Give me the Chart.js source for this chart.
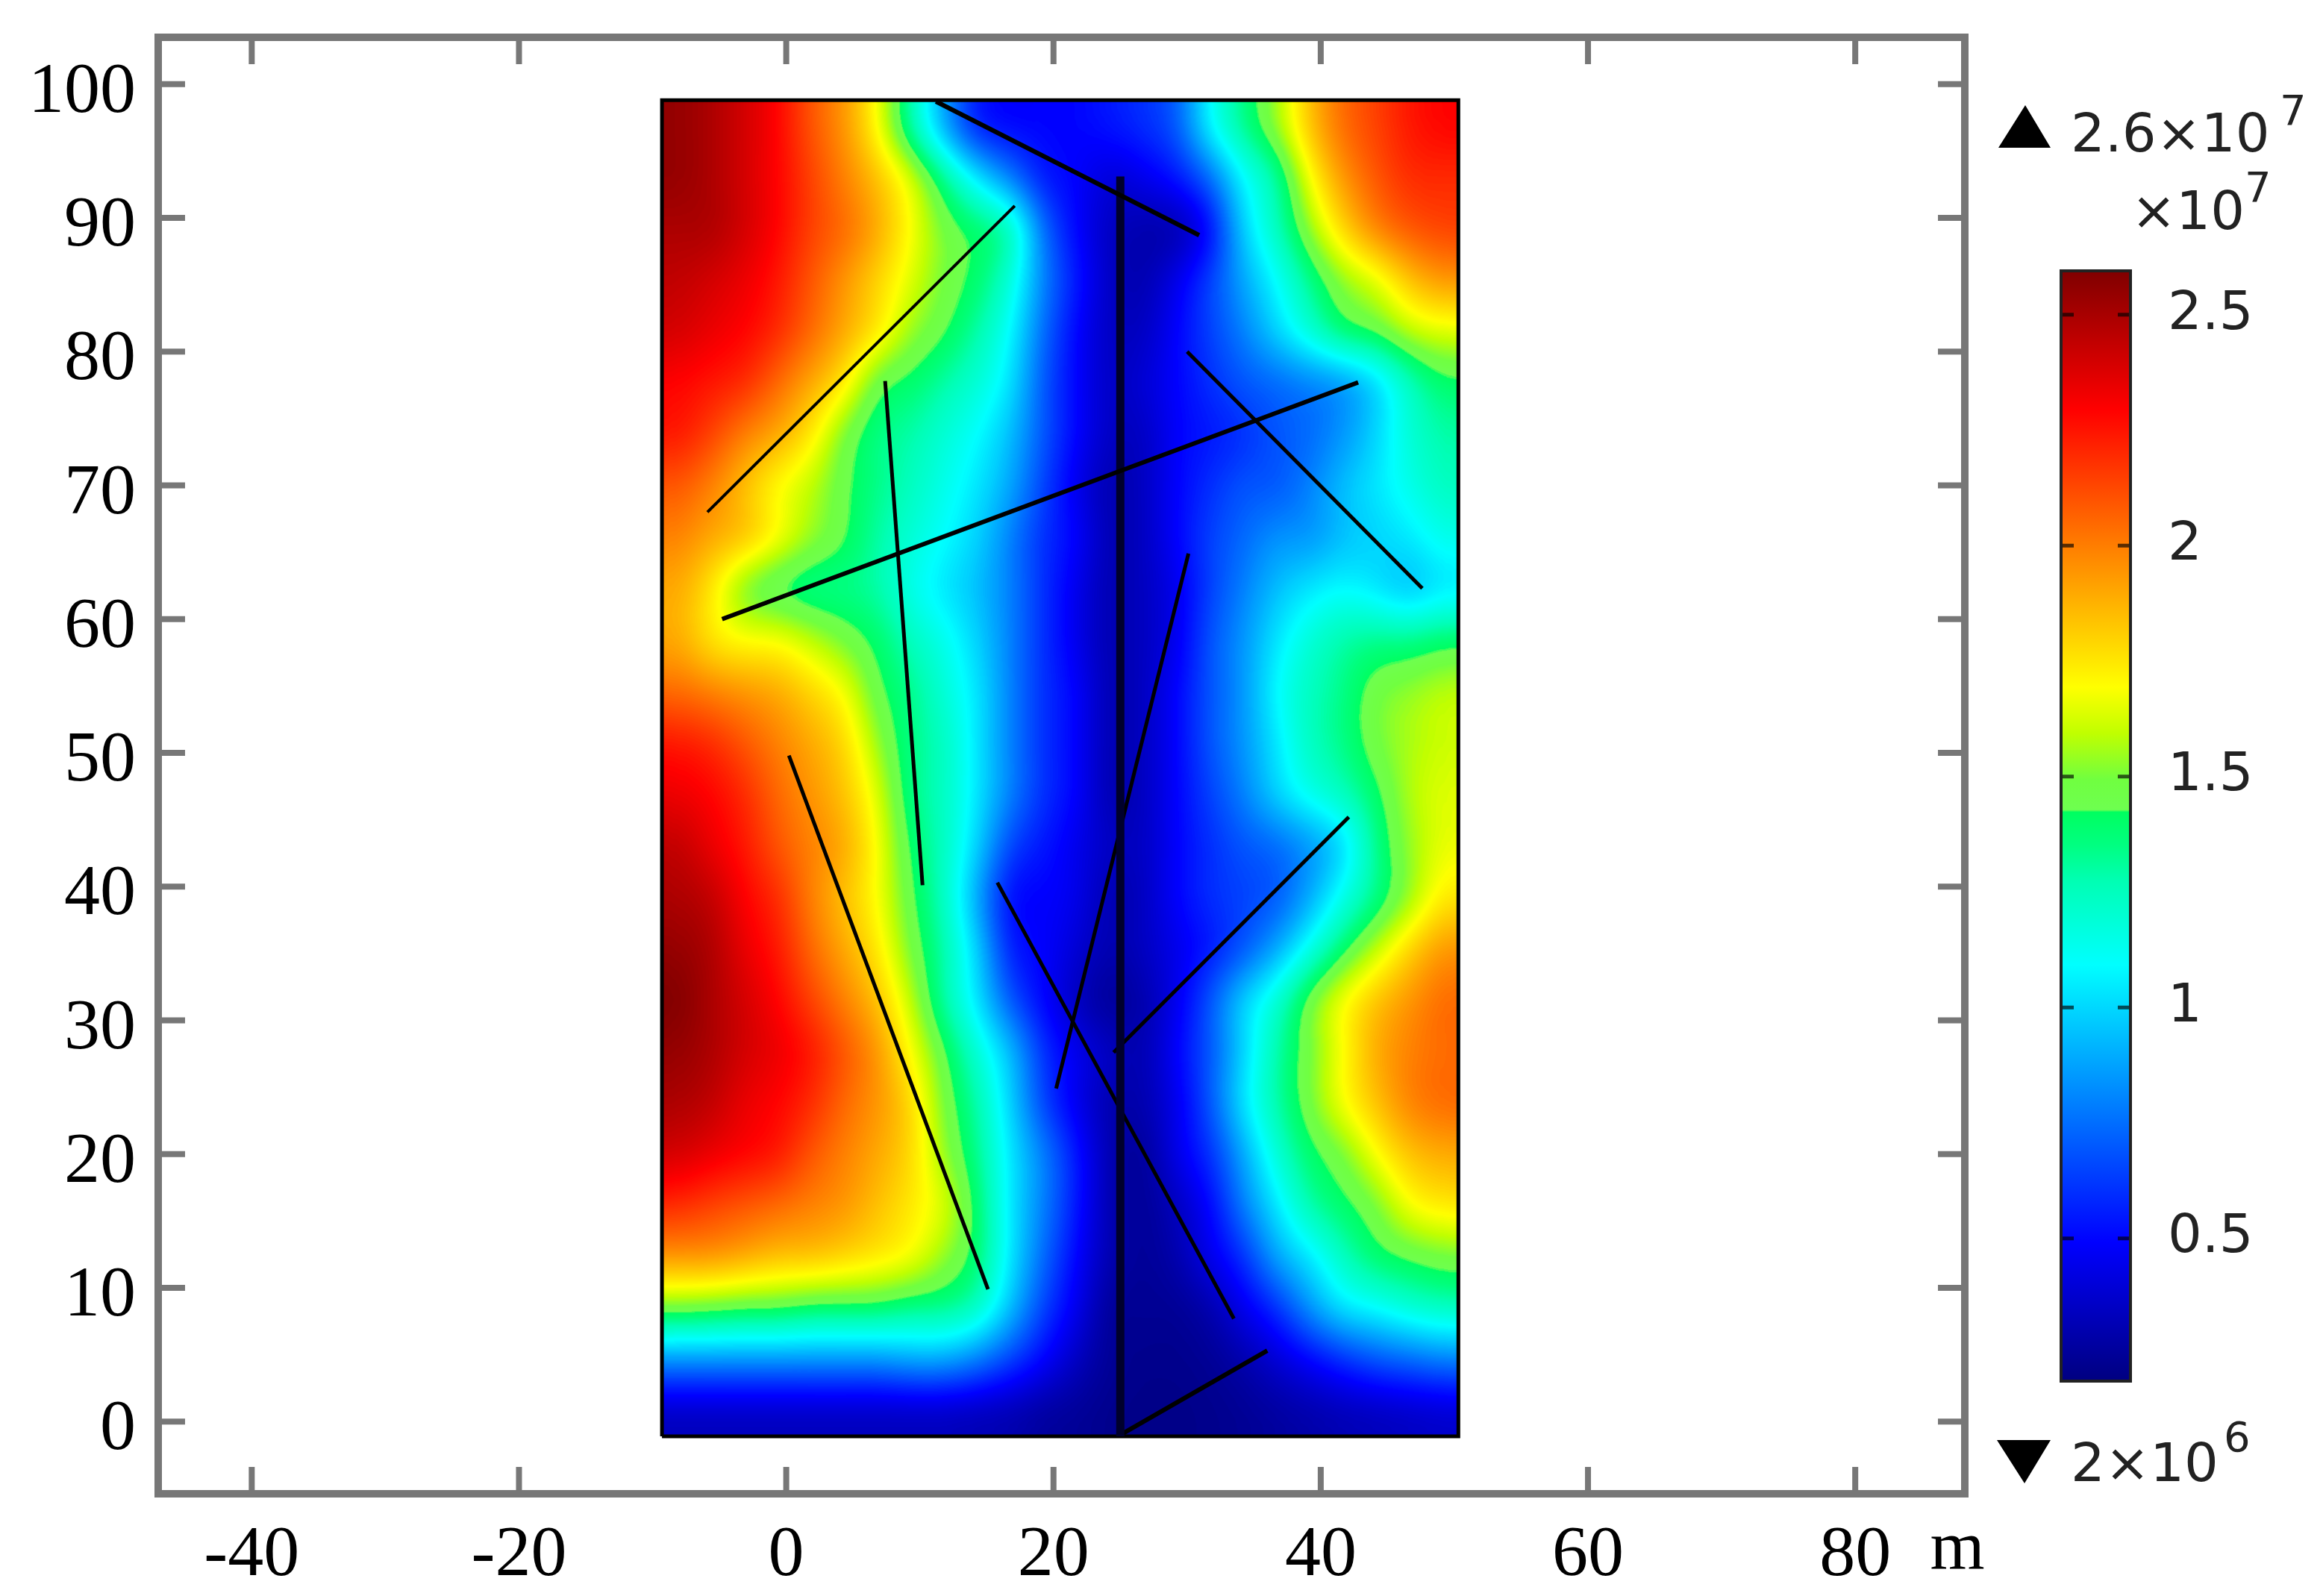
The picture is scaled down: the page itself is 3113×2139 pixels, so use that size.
<!DOCTYPE html>
<html>
<head>
<meta charset="utf-8">
<title>Surface plot</title>
<script src="https://cdn.jsdelivr.net/npm/chart.js@4/dist/chart.umd.min.js"></script>
<style>
  html, body { margin: 0; padding: 0; background: #fff; }
  #campo { position: absolute; left: 0; top: 0; }
  #barra { position: absolute; left: 2640px; top: 0; }
</style>
</head>
<body>
<canvas id="campo" width="2720" height="2139"></canvas>
<canvas id="barra" width="473" height="2139"></canvas>
<script>
// Limites del dominio dibujado, en metros
const dominioX = [-9.3, 50.3];
const dominioY = [-1.1, 98.8];

// Valores, en unidades de 1e6, de arriba abajo y de izquierda a derecha
const valores = [
  [25.5,25,24,23,21,19.5,17,13,9,5.5,5,5,5,5.5,6,7,11,13.5,15.5,18.5,20.5,21.5,22.5,23],
  [25.5,25,24,23,21.5,20,18.5,16.5,13.5,10.5,8,5.5,5,4,4.5,5.5,7.5,11,13,17,19.5,21,22,22],
  [25,25,24,23,21.5,20.5,19,17,15,14,13,7.5,5,3.5,3,3,5,10,12.5,15.5,18,20,21,21.5],
  [24.5,24,23.5,22.5,21,19.5,18,16.5,15,14,12,8,5.5,3.5,3,4.5,6.5,9,11,13.5,15.5,16.5,18.5,19.5],
  [24,23.5,23,22,20.5,19,17.5,15.5,14.5,13,11,7.5,5,3.5,3.5,5,6.5,8,10,12,14,14.5,16,16.5],
  [23,22.5,22,20.5,19,17.5,14.5,14,13,12,10.5,7,5,3.5,4,5,6,7,7.5,8,8.5,10,12.5,14],
  [22.5,21.5,20,19,17.5,15,13.5,13,12,11,9.5,7,5,3.5,3.5,5,5.5,6,7,7.5,8.5,10,12,13],
  [21,20,18.5,17,16,14.5,13.5,12.5,11.5,10.5,9,6.5,4.5,3,3.5,5,6,7,7,8,9.5,10.5,11.5,12.5],
  [20,19,18.5,17,15.5,14.5,13,12,11,10,8,6,5,3,3.5,5,6.5,7.5,8.5,8.5,9.5,10,10.5,11.5],
  [19,17.5,15,14,13.5,13.5,13,11.5,10.5,9.5,8,6,4.5,3,3.5,4.5,6.5,8,9.5,10.5,11,10.5,9.5,10.5],
  [19,17.5,17,17,16,15,14,12.5,11.5,10,8,6,4.5,3,3.5,4.5,7,8.5,10.5,12,13,13.5,13.5,14],
  [20.5,20,19.5,19,18,17,14.5,13.5,12,10.5,8,6,5,3,3.5,5,7,8.5,11,12.5,13.5,15,15.5,16],
  [22.5,22,21,20,19,18,15.5,13.5,12.5,10.5,8,6,5,3,3.5,5,7,8.5,10.5,12.5,13.5,15,15.7,16.2],
  [23.5,23,22,20.5,19.5,18.5,16.5,13.5,12.5,10.5,8,6,5,3,3.5,5,6.5,8,10,11.5,12.5,14,15.8,16.5],
  [24.5,23.5,22.5,21,20,19,17,14,12.5,10,6.5,5.5,4.5,3.5,3.5,5,6,7,7.5,8.5,10,13.5,15.5,16.7],
  [25,24.5,23,22,20,18.5,17,14.5,12.5,9,5,5,4.5,3,3.5,5,6,6.5,7,9,11.5,13.5,15.5,17.5],
  [25.5,25,23.5,22.5,20.5,19,17.5,15,13,10,5.5,5,4,3,3.5,4.5,5.5,7,9,11.5,14,16,18,19.5],
  [26,25,24,23,21.5,20,18.5,16,13,10.5,7,5,3.5,2.5,3,4.5,7,10,12,15,17,18.5,19.5,20.5],
  [25.5,25,24,23.5,22.5,21,19.5,17,14.5,12,9.5,6,4.5,3.5,3,5,7,10,13,15,17,19,20,20.5],
  [25,24.5,23.5,23,22,20.5,19.5,18,15,13,10,6.5,4.5,3,3,4.5,7,10.5,13,15,17,18.5,20,20.5],
  [24,23.5,23,22.5,21,20,19,18,15.5,13.5,10.5,8,5.5,3,2.5,4.5,6,9,12,14,15,17,18.5,19],
  [22,21.5,21,20.5,20,19.5,18.5,17.5,16.5,14,10.5,8,5.5,3,2.5,3.5,5,8,10.5,13,14,15,17,17.5],
  [19.5,19.5,19,18.5,18.5,18,17.5,17,15.5,14,10.5,7.5,5,3,2.5,3,4.5,6,9,10.5,12.5,14,14.5,15],
  [15,14.8,14.5,14.5,14,14,14,13.5,13.5,12.5,9.5,6.5,4.5,2.5,2.5,2.5,3,4.5,6,8.5,10.5,11,12,12.5],
  [8.5,8.5,8.5,8.5,8.5,8.5,8.5,9,9,8,6.5,5,3.5,2.5,2.3,2.3,2.5,3,4,5,6,7,7.5,8],
  [3.6,3.6,3.6,3.6,3.6,3.6,3.6,3.6,3.6,3.4,3.2,2.8,2.6,2.3,2.2,2.2,2.3,2.5,2.8,3,3.3,3.5,3.7,3.9]
];

// Fracturas: x1, y1, x2, y2
const fracturas = [
  [-5.9, 68.0, 17.1, 90.9],
  [7.4, 77.8, 10.2, 40.1],
  [-4.8, 60.0, 42.8, 77.7],
  [11.2, 98.7, 30.9, 88.7],
  [25.0, 93.1, 25.0, -1.1],
  [30.0, 80.0, 47.6, 62.3],
  [30.1, 64.9, 20.2, 24.9],
  [0.2, 49.8, 15.1, 9.9],
  [15.8, 40.3, 33.5, 7.7],
  [42.1, 45.2, 24.5, 27.6],
  [36.0, 5.3, 25.0, -1.0]
];
const anchosFractura = [4, 5, 6, 6, 11, 5, 5, 5, 5, 5, 6];

// Escala de color: valor (1e6) y color
const paradasValor = [2, 5, 11, 12.8, 13.6, 14.3, 14.35, 15, 16, 17, 20, 23, 26];
const paradasColor = [
  [0,0,128], [0,0,255], [0,255,255], [0,255,180], [0,255,128], [0,255,96],
  [110,255,80], [112,255,64], [192,255,0], [255,255,0], [255,128,0], [255,0,0], [128,0,0]
];

const ticksBarra = [0.5, 1, 1.5, 2, 2.5];
const minimoBarra = 0.191;
const maximoBarra = 2.595;

const fuenteEjes = "'Liberation Serif', serif";
const fuenteBarra = "'DejaVu Sans', sans-serif";

// Color para un valor dado
function colorDe(v) {
  if (v <= paradasValor[0]) return paradasColor[0];
  for (let i = 1; i < paradasValor.length; i++) {
    if (v <= paradasValor[i]) {
      const t = (v - paradasValor[i - 1]) / (paradasValor[i] - paradasValor[i - 1]);
      const a = paradasColor[i - 1], b = paradasColor[i];
      return [a[0] + (b[0] - a[0]) * t, a[1] + (b[1] - a[1]) * t, a[2] + (b[2] - a[2]) * t];
    }
  }
  return paradasColor[paradasColor.length - 1];
}

// Pinta el campo: primero en gris a su tamano, se escala, y luego se pasa por la paleta
const pluginCampo = {
  id: "campoColor",
  beforeDatasetsDraw(chart) {
    const { ctx, scales: { x, y } } = chart;
    const filas = valores.length, columnas = valores[0].length;
    const x0 = x.getPixelForValue(dominioX[0]), x1 = x.getPixelForValue(dominioX[1]);
    const y0 = y.getPixelForValue(dominioY[1]), y1 = y.getPixelForValue(dominioY[0]);
    const ancho = Math.round(x1 - x0), alto = Math.round(y1 - y0);

    // Dos celdas repetidas en cada borde, para que el suavizado no los altere
    const borde = 2;
    const gris = document.createElement("canvas");
    gris.width = columnas + 2 * borde; gris.height = filas + 2 * borde;
    const g = gris.getContext("2d");
    const img = g.createImageData(gris.width, gris.height);
    for (let j = 0; j < gris.height; j++) {
      for (let i = 0; i < gris.width; i++) {
        const fila = valores[Math.min(filas - 1, Math.max(0, j - borde))];
        const v = fila[Math.min(columnas - 1, Math.max(0, i - borde))];
        const n = Math.round((v - 2) / 24 * 255), k = (j * gris.width + i) * 4;
        img.data[k] = img.data[k + 1] = img.data[k + 2] = n;
        img.data[k + 3] = 255;
      }
    }
    g.putImageData(img, 0, 0);

    const celdaX = ancho / columnas, celdaY = alto / filas;
    const medio = document.createElement("canvas");
    medio.width = Math.round(gris.width * celdaX); medio.height = Math.round(gris.height * celdaY);
    const m = medio.getContext("2d");
    m.imageSmoothingEnabled = true;
    m.imageSmoothingQuality = "high";
    m.drawImage(gris, 0, 0, medio.width, medio.height);

    const grande = document.createElement("canvas");
    grande.width = ancho; grande.height = alto;
    const c = grande.getContext("2d", { willReadFrequently: true });
    c.filter = "blur(16px)";
    c.drawImage(medio, -borde * celdaX, -borde * celdaY);
    c.filter = "none";
    const datos = c.getImageData(0, 0, ancho, alto);
    const paleta = [];
    for (let n = 0; n < 256; n++) paleta.push(colorDe(2 + n / 255 * 24));
    for (let k = 0; k < datos.data.length; k += 4) {
      const col = paleta[datos.data[k]];
      datos.data[k] = col[0]; datos.data[k + 1] = col[1]; datos.data[k + 2] = col[2];
      datos.data[k + 3] = 255;
    }
    c.putImageData(datos, 0, 0);
    ctx.drawImage(grande, x0, y0);
  },
  afterDraw(chart) {
    // Marco gris y marcas hacia dentro en los cuatro lados
    const { ctx, chartArea: a, scales: { x, y } } = chart;
    ctx.save();
    ctx.strokeStyle = "#777";
    ctx.lineWidth = 8;
    ctx.beginPath();
    x.ticks.forEach(t => {
      const px = x.getPixelForValue(t.value);
      ctx.moveTo(px, a.top); ctx.lineTo(px, a.top + 36);
      ctx.moveTo(px, a.bottom); ctx.lineTo(px, a.bottom - 36);
    });
    y.ticks.forEach(t => {
      const py = y.getPixelForValue(t.value);
      ctx.moveTo(a.left, py); ctx.lineTo(a.left + 36, py);
      ctx.moveTo(a.right, py); ctx.lineTo(a.right - 36, py);
    });
    ctx.stroke();
    ctx.lineWidth = 10;
    ctx.strokeRect(a.left, a.top, a.right - a.left, a.bottom - a.top);
    ctx.fillStyle = "#000";
    ctx.font = "94px " + fuenteEjes;
    ctx.textAlign = "center";
    ctx.textBaseline = "alphabetic";
    ctx.fillText("m", 2623, 2102);
    ctx.restore();
  }
};

const conjuntos = fracturas.map((f, i) => ({
  data: [{ x: f[0], y: f[1] }, { x: f[2], y: f[3] }],
  showLine: true,
  borderColor: i === 4 ? "#00002c" : "#000",
  borderWidth: anchosFractura[i],
  pointRadius: 0
}));
// Borde negro del dominio
conjuntos.push({
  data: [
    { x: dominioX[0], y: dominioY[0] }, { x: dominioX[1], y: dominioY[0] },
    { x: dominioX[1], y: dominioY[1] }, { x: dominioX[0], y: dominioY[1] },
    { x: dominioX[0], y: dominioY[0] }
  ],
  showLine: true,
  borderColor: "#000",
  borderWidth: 5,
  pointRadius: 0
});

// Sin relleno extra de las etiquetas, el area queda donde dice el padding
function sinRelleno(s) {
  s.paddingTop = s.paddingBottom = s.paddingLeft = s.paddingRight = 0;
}

new Chart(document.getElementById("campo"), {
  type: "scatter",
  data: { datasets: conjuntos },
  plugins: [pluginCampo],
  options: {
    responsive: false,
    animation: false,
    layout: { padding: { left: 0, top: 50, right: 87, bottom: 0 } },
    plugins: { legend: { display: false }, tooltip: { enabled: false } },
    scales: {
      x: {
        min: -47.0, max: 88.2,
        grid: { display: false, drawTicks: false },
        border: { display: false },
        afterFit: s => { s.height = 137; sinRelleno(s); },
        ticks: {
          stepSize: 20, includeBounds: false, padding: 26, maxRotation: 0, autoSkip: false,
          color: "#000", font: { family: fuenteEjes, size: 96 }
        }
      },
      y: {
        min: -5.4, max: 103.5,
        grid: { display: false, drawTicks: false },
        border: { display: false },
        afterFit: s => { s.width = 212; sinRelleno(s); },
        ticks: {
          stepSize: 10, includeBounds: false, padding: 30, autoSkip: false, labelOffset: 12,
          color: "#000", font: { family: fuenteEjes, size: 96 }
        }
      }
    }
  }
});

// Barra de color con sus textos
const pluginBarra = {
  id: "barraColor",
  beforeDatasetsDraw(chart) {
    const { ctx, chartArea: a, scales: { y } } = chart;
    const arriba = y.getPixelForValue(maximoBarra), abajo = y.getPixelForValue(minimoBarra);
    const grad = ctx.createLinearGradient(0, arriba, 0, abajo);
    const total = paradasValor[paradasValor.length - 1] - paradasValor[0];
    paradasValor.forEach((v, i) => {
      const c = paradasColor[i];
      grad.addColorStop(1 - (v - paradasValor[0]) / total, `rgb(${c[0]},${c[1]},${c[2]})`);
    });
    ctx.save();
    ctx.fillStyle = grad;
    ctx.fillRect(a.left, arriba, a.right - a.left, abajo - arriba);
    ctx.strokeStyle = "rgba(0,0,0,0.65)";
    ctx.lineWidth = 5;
    ctx.beginPath();
    ticksBarra.forEach(t => {
      const py = y.getPixelForValue(t);
      ctx.moveTo(a.left, py); ctx.lineTo(a.left + 17, py);
      ctx.moveTo(a.right, py); ctx.lineTo(a.right - 17, py);
    });
    ctx.stroke();
    ctx.strokeStyle = "#222";
    ctx.lineWidth = 4;
    ctx.strokeRect(a.left, arriba, a.right - a.left, abajo - arriba);

    // Triangulos y textos de maximo y minimo (coordenadas de pagina menos 2640)
    ctx.fillStyle = "#000";
    ctx.beginPath();
    ctx.moveTo(74, 141); ctx.lineTo(108, 198); ctx.lineTo(38, 198); ctx.closePath();
    ctx.moveTo(36, 1930); ctx.lineTo(108, 1930); ctx.lineTo(73, 1988); ctx.closePath();
    ctx.fill();
    ctx.fillStyle = "#222";
    ctx.textBaseline = "alphabetic";
    ctx.textAlign = "left";
    ctx.font = "72px " + fuenteBarra;
    ctx.fillText("2.6×10", 135, 203);
    ctx.fillText("×10", 216, 307);
    ctx.fillText("2×10", 135, 1985);
    ctx.font = "56px " + fuenteBarra;
    ctx.fillText("7", 415, 167);
    ctx.fillText("7", 368, 270);
    ctx.fillText("6", 340, 1945);
    ctx.restore();
  }
};

new Chart(document.getElementById("barra"), {
  type: "scatter",
  data: { datasets: [] },
  plugins: [pluginBarra],
  options: {
    responsive: false,
    animation: false,
    layout: { padding: { left: 122, top: 363, right: 0, bottom: 288 } },
    plugins: { legend: { display: false }, tooltip: { enabled: false } },
    scales: {
      x: { display: false },
      y: {
        position: "right",
        min: minimoBarra, max: maximoBarra,
        grid: { display: false, drawTicks: false },
        border: { display: false },
        afterFit: s => { s.width = 258; sinRelleno(s); },
        ticks: {
          stepSize: 0.5, includeBounds: false, padding: 50, autoSkip: false,
          color: "#222", font: { family: fuenteBarra, size: 72 },
          callback: v => String(Math.round(v * 10) / 10)
        }
      }
    }
  }
});
</script>
</body>
</html>
